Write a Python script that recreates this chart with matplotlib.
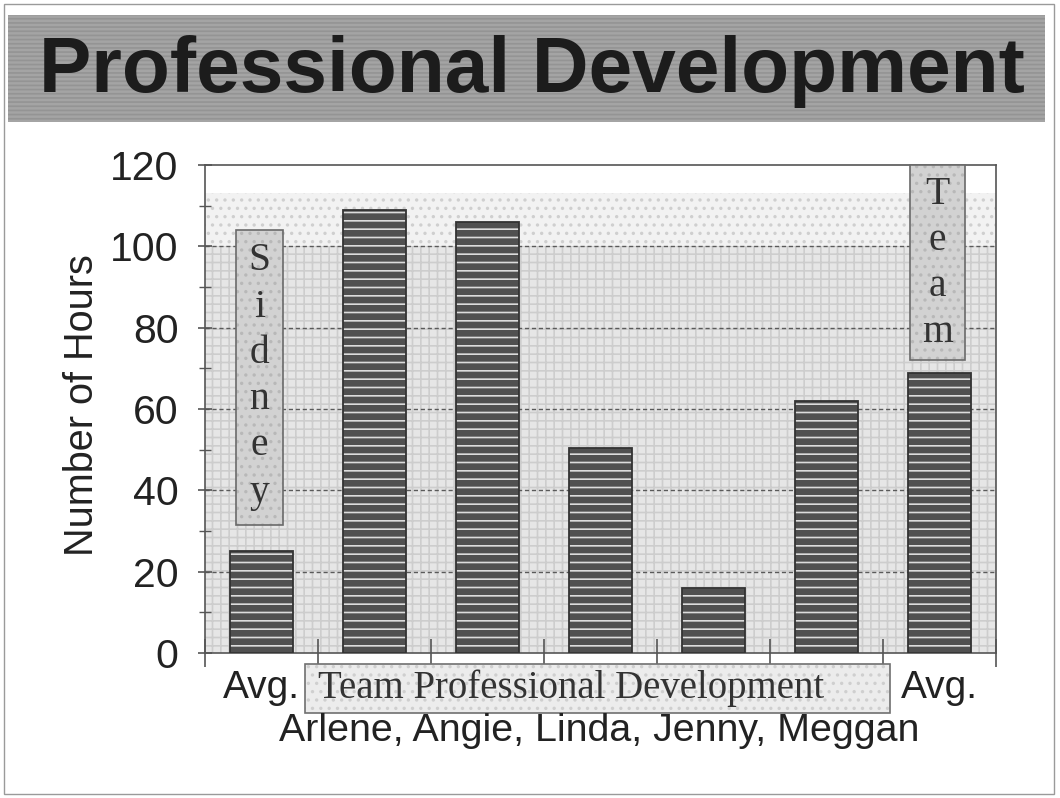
import matplotlib
matplotlib.use("Agg")
import matplotlib.pyplot as plt
from matplotlib.patches import Rectangle
import numpy as np

# --- data -------------------------------------------------------------
categories = ["Sidney", "Arlene", "Angie", "Linda", "Jenny", "Meggan", "Team"]
hours = [25, 109, 106, 50.5, 16, 62, 68.8]
yticks = [0, 20, 40, 60, 80, 100, 120]
ytick_labels = ["0", "20", "40", "60", "80", "100", "120"]
title = "Professional Development"
ylabel = "Number of Hours"
group_caption = "Team Professional Development"
members_caption = "Arlene, Angie, Linda, Jenny, Meggan"

SANS = "Liberation Sans"
SERIF = "Liberation Serif"
W, H = 1060, 798

plt.rcParams["hatch.linewidth"] = 1.2

fig = plt.figure(figsize=(W / 100, H / 100), dpi=100)
fig.patch.set_facecolor("white")

def px(x0, y0, x1, y1):
    """figure-fraction rectangle from pixel corners (top-left origin)"""
    return (x0 / W, 1 - y1 / H), (x1 - x0) / W, (y1 - y0) / H

# slide frame
(fx, fy), fw, fh = px(4, 4, 1054, 794)
fig.patches.append(Rectangle((fx, fy), fw, fh, transform=fig.transFigure,
                             fill=False, edgecolor="#9a9a9a", lw=1.0))

# title banner
(bx, by), bw, bh = px(8, 15, 1045, 122)
fig.patches.append(Rectangle((bx, by), bw, bh, transform=fig.transFigure,
                             facecolor="#a4a4a4", edgecolor="#949494",
                             hatch="----", lw=0, zorder=0))
fig.text(532 / W, 1 - 71 / H, title, ha="center", va="center",
         fontsize=56.5, fontweight="bold", family=SANS, color="#1c1c1c")

# --- plot area --------------------------------------------------------
(ax_x, ax_y), ax_w, ax_h = px(205, 165, 996, 653)
ax = fig.add_axes([ax_x, ax_y, ax_w, ax_h])
x = np.arange(len(categories))
ax.set_xlim(-0.5, len(categories) - 0.5)
ax.set_ylim(yticks[0], yticks[-1])
ax.set_facecolor("white")

# textured backdrop bands
ax.axhspan(0, 100, facecolor="#e6e6e6", edgecolor="#cdcdcd", hatch="++", lw=0, zorder=0)
ax.axhspan(100, 113, facecolor="#f2f2f2", edgecolor="#cfcfcf", hatch="..", lw=0, zorder=0)

for v in yticks[1:-1]:
    ax.axhline(v, color="#5a5a5a", ls=(0, (3, 2)), lw=1.0, zorder=1)

# brick-filled bars
ax.bar(x, hours, width=0.55, color="#505050", edgecolor="#dcdcdc", hatch="--",
       lw=0, zorder=2)
ax.bar(x, hours, width=0.55, fill=False, edgecolor="#333333", lw=1.3, zorder=3)

for side in ax.spines.values():
    side.set_color("#555555")
    side.set_linewidth(1.2)

ax.set_yticks(yticks)
ax.set_yticklabels(ytick_labels, family=SANS, fontsize=29.5, color="#222222")
ax.set_yticks(np.arange(0, 121, 10), minor=True)
ax.tick_params(axis="y", which="major", direction="inout", length=10, width=1.2,
               color="#555555", pad=14)
ax.tick_params(axis="y", which="minor", direction="inout", length=8, width=1.0,
               color="#555555")
ax.set_xticks(np.arange(-0.5, len(categories), 1))
ax.set_xticklabels([])
ax.tick_params(axis="x", direction="inout", length=20, width=1.2, color="#555555")

fig.text(82 / W, 1 - 405 / H, ylabel, rotation=90, ha="center", va="center",
         family=SANS, fontsize=28.5, color="#222222")

# category captions under the axis
xt = ax.get_xaxis_transform()
for i in (0, len(categories) - 1):
    ax.text(x[i], -0.072, "Avg.", transform=xt, ha="center", va="center",
            family=SANS, fontsize=28, color="#222222", clip_on=False)

ax.add_patch(Rectangle((0.385, -0.123), 5.56 - 0.385, 0.101, transform=xt,
                       facecolor="#ececec", edgecolor="#cfcfcf", hatch="..",
                       lw=0, clip_on=False, zorder=4))
ax.add_patch(Rectangle((0.385, -0.123), 5.56 - 0.385, 0.101, transform=xt,
                       fill=False, edgecolor="#707070", lw=1.2, clip_on=False, zorder=5))
ax.text(0.5, -0.072, group_caption, transform=xt, ha="left", va="center",
        family=SERIF, fontsize=27.9, color="#333333", clip_on=False, zorder=6)

fig.text(599 / W, 1 - 731 / H, members_caption, ha="center", va="center",
         family=SANS, fontsize=28.4, color="#222222")

# vertical name tags on the two average bars
def name_tag(xc, half_w, y0, y1, label, yc):
    ax.add_patch(Rectangle((xc - half_w, y0), 2 * half_w, y1 - y0,
                           facecolor="#d2d2d2", edgecolor="#b8b8b8", hatch="..",
                           lw=0, zorder=6, clip_on=False))
    ax.add_patch(Rectangle((xc - half_w, y0), 2 * half_w, y1 - y0, fill=False,
                           edgecolor="#6a6a6a", lw=1.2, zorder=7, clip_on=False))
    ax.text(xc, yc, "\n".join(label), ha="center", va="center",
            family=SERIF, fontsize=28.5, color="#333333", linespacing=1.33,
            zorder=8)

name_tag(x[0] - 0.02, 0.21, 31.5, 104, categories[0], 68.0)
name_tag(x[-1] - 0.02, 0.245, 72, 120, categories[-1], 95.8)

fig.savefig("out.png", dpi=100)
